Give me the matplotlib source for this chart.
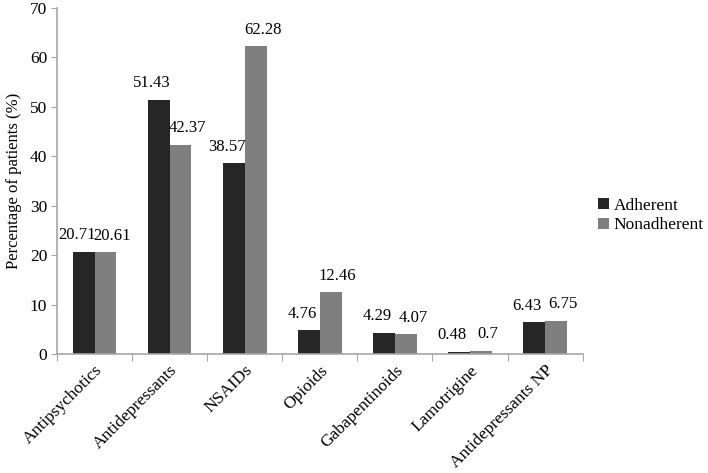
import matplotlib

matplotlib.use("Agg")
import matplotlib.pyplot as plt  # noqa: E402
import numpy as np  # noqa: E402

categories = [
    "Antipsychotics",
    "Antidepressants",
    "NSAIDs",
    "Opioids",
    "Gabapentinoids",
    "Lamotrigine",
    "Antidepressants NP",
]
adherent = [20.71, 51.43, 38.57, 4.76, 4.29, 0.48, 6.43]
nonadherent = [20.61, 42.37, 62.28, 12.46, 4.07, 0.7, 6.75]
adherent_labels = ["20.71", "51.43", "38.57", "4.76", "4.29", "0.48", "6.43"]
nonadherent_labels = ["20.61", "42.37", "62.28", "12.46", "4.07", "0.7", "6.75"]
y_ticks = [0, 10, 20, 30, 40, 50, 60, 70]

plt.rcParams["font.family"] = ["Liberation Serif", "DejaVu Serif"]

DARK = "#262626"
GRAY = "#7f7f7f"
AXIS = "#a6a6a6"
FS = 12.5

fig = plt.figure(figsize=(7.08, 4.73), dpi=100)
ax = fig.add_axes([0.0805, 0.2516, 0.7425, 0.7314])

x = np.arange(len(categories))
w = 0.29
ax.bar(x - w / 2, adherent, width=w, color=DARK, label="Adherent")
ax.bar(x + w / 2, nonadherent, width=w, color=GRAY, label="Nonadherent")

# labels nudged outward so neighbouring numbers don't collide
for xi, v, s in zip(x, adherent, adherent_labels):
    ax.annotate(s, (xi - w / 2, v), xytext=(-5, 6), textcoords="offset points",
                ha="center", va="bottom", fontsize=12)
for xi, v, s in zip(x, nonadherent, nonadherent_labels):
    ax.annotate(s, (xi + w / 2, v), xytext=(5, 6), textcoords="offset points",
                ha="center", va="bottom", fontsize=12)

ax.set_xlim(-0.5, len(categories) - 0.5)
ax.set_ylim(0, 70)
ax.set_yticks(y_ticks)
ax.tick_params(axis="y", labelsize=FS, length=4, color=AXIS, pad=3)

ax.set_xticks(np.arange(len(categories) + 1) - 0.5)
ax.set_xticklabels([])
ax.tick_params(axis="x", which="major", length=5, color=AXIS)
ax.set_xticks(x, minor=True)
ax.set_xticklabels(categories, minor=True, rotation=45, ha="right",
                   rotation_mode="anchor", fontsize=FS)
ax.tick_params(axis="x", which="minor", length=0, pad=6)

for side in ("top", "right"):
    ax.spines[side].set_visible(False)
for side in ("left", "bottom"):
    ax.spines[side].set_color(AXIS)
    ax.spines[side].set_linewidth(1.2)

ax.set_ylabel("Percentage of patients (%)", fontsize=12, labelpad=6)

ax.legend(loc="center left", bbox_to_anchor=(1.0, 0.40), frameon=False,
          fontsize=FS, handlelength=0.6, handleheight=0.6, handletextpad=0.3,
          labelspacing=0.2)

fig.savefig("out.png", dpi=100)
